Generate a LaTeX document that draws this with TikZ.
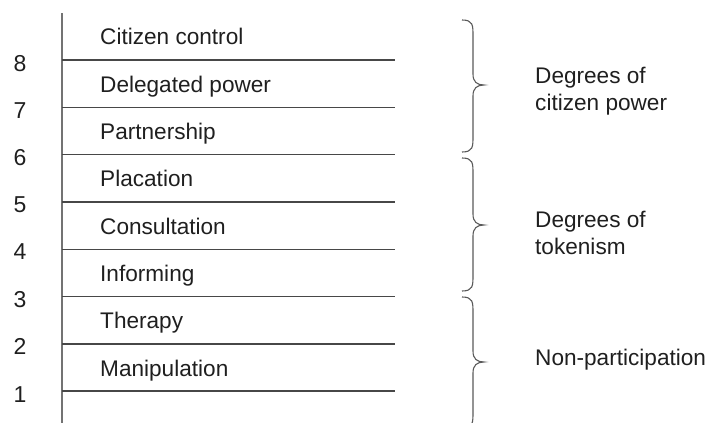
\documentclass[tikz,border=0pt]{standalone}
\usepackage{fontspec}
\setmainfont{Liberation Sans}
\begin{document}
\begin{tikzpicture}[x=1pt,y=-1pt,
  lbl/.style={anchor=base west,inner sep=0pt,font=\fontsize{22.6}{27}\selectfont,text=black!88},
  num/.style={anchor=base,inner sep=0pt,font=\fontsize{23}{27}\selectfont,text=black!88},
  grp/.style={anchor=base west,inner sep=0pt,font=\fontsize{22.6}{27}\selectfont,text=black!88,align=left},
  rung/.style={draw=black!72,line width=1.4pt},
  axis/.style={draw=black!55,line width=1.8pt},
  brace/.style={draw=black!65,line width=1.1pt}]
\useasboundingbox (0,0) rectangle (713,423);
\clip (0,0) rectangle (713,423);
% axis
\coordinate (axtop) at (62,13);
\coordinate (axbot) at (62,425);
\draw[axis] (axtop) -- (axbot);
% rungs
\foreach \y [count=\i] in {60,107.3,154.6,201.9,249.2,296.5,343.8,391.1}{
  \coordinate (l\i) at (62,\y);
  \coordinate (r\i) at (395,\y);
  \draw[rung] (l\i) -- (r\i);
}
% numbers
\foreach \n/\y in {8/71,7/118,6/165,5/212,4/259,3/307,2/354,1/402}{
  \node[num] (n\n) at (20,\y) {\n};
}
% labels
\node[lbl] (c8) at (100,45) {Citizen control};
\node[lbl] (c7) at (100,92) {Delegated power};
\node[lbl] (c6) at (100,139) {Partnership};
\node[lbl] (c5) at (100,186.5) {Placation};
\node[lbl] (c4) at (100,234) {Consultation};
\node[lbl] (c3) at (100,281) {Informing};
\node[lbl] (c2) at (100,328.5) {Therapy};
\node[lbl] (c1) at (100,376) {Manipulation};
% braces
\def\xe{462}\def\xs{473}\def\xt{484}
\foreach \yt/\ym/\yb in {20/85/152, 158/225/291, 297/362/428}{
  \draw[brace] (\xe,\yt) .. controls (\xs,\yt) and (\xs,\yt+5) .. (\xs,\yt+16)
    -- (\xs,\ym-11) .. controls (\xs,\ym-3) and (\xs+4,\ym) .. (\xt,\ym)
    .. controls (\xs+4,\ym) and (\xs,\ym+3) .. (\xs,\ym+11)
    -- (\xs,\yb-16) .. controls (\xs,\yb-5) and (\xs,\yb) .. (\xe,\yb);
}
% group labels
\node[grp] (g3) at (535,83) {Degrees of};
\node[grp] (g3b) at (535,110) {citizen power};
\node[grp] (g2) at (535,227) {Degrees of};
\node[grp] (g2b) at (535,254) {tokenism};
\node[grp] (g1) at (535,365) {Non-participation};
\end{tikzpicture}
\end{document}
